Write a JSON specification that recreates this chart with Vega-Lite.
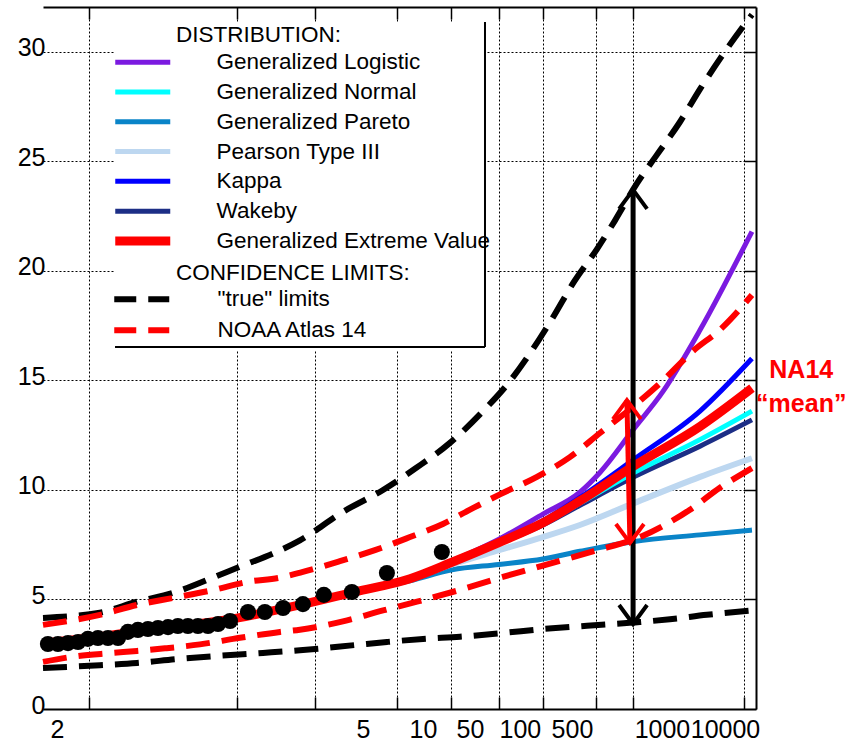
{
  "$schema": "https://vega.github.io/schema/vega-lite/v6.json",
  "width": 713,
  "height": 702,
  "autosize": {"type": "none"},
  "padding": {"left": 43, "top": 7, "right": 90, "bottom": 33},
  "background": "white",
  "config": {
    "font": "Liberation Sans",
    "view": {"stroke": null},
    "axis": {"labelFont": "Liberation Sans", "labelColor": "black", "labelFontSize": 25, "labelFlush": false, "labelOverlap": false}
  },
  "datasets": {
    "fits": [
      {"dist": "Generalized Pareto", "z": -0.261, "v": 3.0}, {"dist": "Generalized Pareto", "z": 0.062, "v": 3.3}, {"dist": "Generalized Pareto", "z": 0.346, "v": 3.62}, {"dist": "Generalized Pareto", "z": 0.84, "v": 4.15}, {"dist": "Generalized Pareto", "z": 1.198, "v": 4.75}, {"dist": "Generalized Pareto", "z": 1.511, "v": 5.33}, {"dist": "Generalized Pareto", "z": 1.823, "v": 5.85}, {"dist": "Generalized Pareto", "z": 2.061, "v": 6.35}, {"dist": "Generalized Pareto", "z": 2.328, "v": 6.6}, {"dist": "Generalized Pareto", "z": 2.578, "v": 6.85}, {"dist": "Generalized Pareto", "z": 2.788, "v": 7.2}, {"dist": "Generalized Pareto", "z": 3.095, "v": 7.65}, {"dist": "Generalized Pareto", "z": 3.47, "v": 7.95}, {"dist": "Generalized Pareto", "z": 3.765, "v": 8.17},
      {"dist": "Pearson Type III", "z": -0.261, "v": 3.0}, {"dist": "Pearson Type III", "z": 0.062, "v": 3.3}, {"dist": "Pearson Type III", "z": 0.346, "v": 3.62}, {"dist": "Pearson Type III", "z": 0.84, "v": 4.15}, {"dist": "Pearson Type III", "z": 1.198, "v": 4.75}, {"dist": "Pearson Type III", "z": 1.511, "v": 5.35}, {"dist": "Pearson Type III", "z": 1.823, "v": 5.95}, {"dist": "Pearson Type III", "z": 2.061, "v": 6.6}, {"dist": "Pearson Type III", "z": 2.328, "v": 7.25}, {"dist": "Pearson Type III", "z": 2.578, "v": 7.85}, {"dist": "Pearson Type III", "z": 2.788, "v": 8.4}, {"dist": "Pearson Type III", "z": 3.095, "v": 9.4}, {"dist": "Pearson Type III", "z": 3.47, "v": 10.6}, {"dist": "Pearson Type III", "z": 3.765, "v": 11.45},
      {"dist": "Wakeby", "z": -0.261, "v": 3.0}, {"dist": "Wakeby", "z": 0.062, "v": 3.3}, {"dist": "Wakeby", "z": 0.346, "v": 3.62}, {"dist": "Wakeby", "z": 0.84, "v": 4.15}, {"dist": "Wakeby", "z": 1.198, "v": 4.75}, {"dist": "Wakeby", "z": 1.511, "v": 5.35}, {"dist": "Wakeby", "z": 1.823, "v": 5.95}, {"dist": "Wakeby", "z": 2.061, "v": 6.68}, {"dist": "Wakeby", "z": 2.328, "v": 7.55}, {"dist": "Wakeby", "z": 2.578, "v": 8.4}, {"dist": "Wakeby", "z": 2.788, "v": 9.3}, {"dist": "Wakeby", "z": 3.095, "v": 10.6}, {"dist": "Wakeby", "z": 3.47, "v": 12.0}, {"dist": "Wakeby", "z": 3.765, "v": 13.2},
      {"dist": "Generalized Normal", "z": -0.261, "v": 3.0}, {"dist": "Generalized Normal", "z": 0.062, "v": 3.3}, {"dist": "Generalized Normal", "z": 0.346, "v": 3.62}, {"dist": "Generalized Normal", "z": 0.84, "v": 4.15}, {"dist": "Generalized Normal", "z": 1.198, "v": 4.75}, {"dist": "Generalized Normal", "z": 1.511, "v": 5.35}, {"dist": "Generalized Normal", "z": 1.823, "v": 5.95}, {"dist": "Generalized Normal", "z": 2.061, "v": 6.7}, {"dist": "Generalized Normal", "z": 2.328, "v": 7.6}, {"dist": "Generalized Normal", "z": 2.578, "v": 8.45}, {"dist": "Generalized Normal", "z": 2.788, "v": 9.4}, {"dist": "Generalized Normal", "z": 3.095, "v": 10.8}, {"dist": "Generalized Normal", "z": 3.47, "v": 12.3}, {"dist": "Generalized Normal", "z": 3.765, "v": 13.6},
      {"dist": "Generalized Logistic", "z": -0.261, "v": 3.0}, {"dist": "Generalized Logistic", "z": 0.062, "v": 3.3}, {"dist": "Generalized Logistic", "z": 0.346, "v": 3.62}, {"dist": "Generalized Logistic", "z": 0.84, "v": 4.15}, {"dist": "Generalized Logistic", "z": 1.198, "v": 4.75}, {"dist": "Generalized Logistic", "z": 1.511, "v": 5.35}, {"dist": "Generalized Logistic", "z": 1.823, "v": 5.95}, {"dist": "Generalized Logistic", "z": 2.061, "v": 6.75}, {"dist": "Generalized Logistic", "z": 2.328, "v": 7.75}, {"dist": "Generalized Logistic", "z": 2.578, "v": 8.9}, {"dist": "Generalized Logistic", "z": 2.788, "v": 9.9}, {"dist": "Generalized Logistic", "z": 2.902, "v": 10.8}, {"dist": "Generalized Logistic", "z": 3.095, "v": 12.8}, {"dist": "Generalized Logistic", "z": 3.26, "v": 14.5}, {"dist": "Generalized Logistic", "z": 3.47, "v": 17.3}, {"dist": "Generalized Logistic", "z": 3.765, "v": 21.8},
      {"dist": "Kappa", "z": -0.261, "v": 3.0}, {"dist": "Kappa", "z": 0.062, "v": 3.3}, {"dist": "Kappa", "z": 0.346, "v": 3.62}, {"dist": "Kappa", "z": 0.84, "v": 4.15}, {"dist": "Kappa", "z": 1.198, "v": 4.75}, {"dist": "Kappa", "z": 1.511, "v": 5.35}, {"dist": "Kappa", "z": 1.823, "v": 5.95}, {"dist": "Kappa", "z": 2.061, "v": 6.7}, {"dist": "Kappa", "z": 2.328, "v": 7.65}, {"dist": "Kappa", "z": 2.578, "v": 8.6}, {"dist": "Kappa", "z": 2.788, "v": 9.65}, {"dist": "Kappa", "z": 3.095, "v": 11.4}, {"dist": "Kappa", "z": 3.47, "v": 13.6}, {"dist": "Kappa", "z": 3.765, "v": 16.0},
      {"dist": "Generalized Extreme Value", "z": -0.261, "v": 3.0}, {"dist": "Generalized Extreme Value", "z": 0.062, "v": 3.3}, {"dist": "Generalized Extreme Value", "z": 0.346, "v": 3.62}, {"dist": "Generalized Extreme Value", "z": 0.84, "v": 4.15}, {"dist": "Generalized Extreme Value", "z": 1.198, "v": 4.75}, {"dist": "Generalized Extreme Value", "z": 1.511, "v": 5.35}, {"dist": "Generalized Extreme Value", "z": 1.823, "v": 5.95}, {"dist": "Generalized Extreme Value", "z": 2.061, "v": 6.7}, {"dist": "Generalized Extreme Value", "z": 2.328, "v": 7.6}, {"dist": "Generalized Extreme Value", "z": 2.578, "v": 8.5}, {"dist": "Generalized Extreme Value", "z": 2.788, "v": 9.5}, {"dist": "Generalized Extreme Value", "z": 3.095, "v": 11.1}, {"dist": "Generalized Extreme Value", "z": 3.47, "v": 12.9}, {"dist": "Generalized Extreme Value", "z": 3.765, "v": 14.65}
    ],
    "limits": [
      {"limit": "\"true\" limits", "bound": "upper", "z": -0.261, "v": 4.16}, {"limit": "\"true\" limits", "bound": "upper", "z": 0.062, "v": 4.4}, {"limit": "\"true\" limits", "bound": "upper", "z": 0.273, "v": 4.9}, {"limit": "\"true\" limits", "bound": "upper", "z": 0.477, "v": 5.3}, {"limit": "\"true\" limits", "bound": "upper", "z": 0.704, "v": 6.0}, {"limit": "\"true\" limits", "bound": "upper", "z": 0.857, "v": 6.5}, {"limit": "\"true\" limits", "bound": "upper", "z": 1.045, "v": 7.1}, {"limit": "\"true\" limits", "bound": "upper", "z": 1.198, "v": 7.7}, {"limit": "\"true\" limits", "bound": "upper", "z": 1.442, "v": 9.0}, {"limit": "\"true\" limits", "bound": "upper", "z": 1.67, "v": 10.0}, {"limit": "\"true\" limits", "bound": "upper", "z": 1.857, "v": 11.0}, {"limit": "\"true\" limits", "bound": "upper", "z": 2.05, "v": 12.15}, {"limit": "\"true\" limits", "bound": "upper", "z": 2.232, "v": 13.55}, {"limit": "\"true\" limits", "bound": "upper", "z": 2.379, "v": 14.85}, {"limit": "\"true\" limits", "bound": "upper", "z": 2.51, "v": 16.3}, {"limit": "\"true\" limits", "bound": "upper", "z": 2.629, "v": 17.8}, {"limit": "\"true\" limits", "bound": "upper", "z": 2.754, "v": 19.5}, {"limit": "\"true\" limits", "bound": "upper", "z": 2.885, "v": 21.0}, {"limit": "\"true\" limits", "bound": "upper", "z": 2.987, "v": 22.3}, {"limit": "\"true\" limits", "bound": "upper", "z": 3.112, "v": 24.0}, {"limit": "\"true\" limits", "bound": "upper", "z": 3.225, "v": 25.3}, {"limit": "\"true\" limits", "bound": "upper", "z": 3.356, "v": 26.8}, {"limit": "\"true\" limits", "bound": "upper", "z": 3.47, "v": 28.3}, {"limit": "\"true\" limits", "bound": "upper", "z": 3.589, "v": 29.75}, {"limit": "\"true\" limits", "bound": "upper", "z": 3.765, "v": 31.7},
      {"limit": "\"true\" limits", "bound": "lower", "z": -0.261, "v": 1.87}, {"limit": "\"true\" limits", "bound": "lower", "z": 0.062, "v": 2.0}, {"limit": "\"true\" limits", "bound": "lower", "z": 0.273, "v": 2.1}, {"limit": "\"true\" limits", "bound": "lower", "z": 0.5, "v": 2.28}, {"limit": "\"true\" limits", "bound": "lower", "z": 0.727, "v": 2.42}, {"limit": "\"true\" limits", "bound": "lower", "z": 0.988, "v": 2.56}, {"limit": "\"true\" limits", "bound": "lower", "z": 1.198, "v": 2.68}, {"limit": "\"true\" limits", "bound": "lower", "z": 1.511, "v": 2.92}, {"limit": "\"true\" limits", "bound": "lower", "z": 1.692, "v": 3.06}, {"limit": "\"true\" limits", "bound": "lower", "z": 1.897, "v": 3.2}, {"limit": "\"true\" limits", "bound": "lower", "z": 2.107, "v": 3.3}, {"limit": "\"true\" limits", "bound": "lower", "z": 2.351, "v": 3.47}, {"limit": "\"true\" limits", "bound": "lower", "z": 2.578, "v": 3.65}, {"limit": "\"true\" limits", "bound": "lower", "z": 2.828, "v": 3.8}, {"limit": "\"true\" limits", "bound": "lower", "z": 3.129, "v": 3.97}, {"limit": "\"true\" limits", "bound": "lower", "z": 3.299, "v": 4.1}, {"limit": "\"true\" limits", "bound": "lower", "z": 3.509, "v": 4.3}, {"limit": "\"true\" limits", "bound": "lower", "z": 3.765, "v": 4.5},
      {"limit": "NOAA Atlas 14", "bound": "upper", "z": -0.261, "v": 3.84}, {"limit": "NOAA Atlas 14", "bound": "upper", "z": 0.062, "v": 4.3}, {"limit": "NOAA Atlas 14", "bound": "upper", "z": 0.273, "v": 4.75}, {"limit": "NOAA Atlas 14", "bound": "upper", "z": 0.477, "v": 5.07}, {"limit": "NOAA Atlas 14", "bound": "upper", "z": 0.704, "v": 5.43}, {"limit": "NOAA Atlas 14", "bound": "upper", "z": 0.897, "v": 5.8}, {"limit": "NOAA Atlas 14", "bound": "upper", "z": 1.085, "v": 6.0}, {"limit": "NOAA Atlas 14", "bound": "upper", "z": 1.21, "v": 6.25}, {"limit": "NOAA Atlas 14", "bound": "upper", "z": 1.425, "v": 6.75}, {"limit": "NOAA Atlas 14", "bound": "upper", "z": 1.624, "v": 7.25}, {"limit": "NOAA Atlas 14", "bound": "upper", "z": 1.823, "v": 7.85}, {"limit": "NOAA Atlas 14", "bound": "upper", "z": 2.01, "v": 8.45}, {"limit": "NOAA Atlas 14", "bound": "upper", "z": 2.164, "v": 9.1}, {"limit": "NOAA Atlas 14", "bound": "upper", "z": 2.334, "v": 9.8}, {"limit": "NOAA Atlas 14", "bound": "upper", "z": 2.544, "v": 10.6}, {"limit": "NOAA Atlas 14", "bound": "upper", "z": 2.731, "v": 11.5}, {"limit": "NOAA Atlas 14", "bound": "upper", "z": 2.902, "v": 12.6}, {"limit": "NOAA Atlas 14", "bound": "upper", "z": 3.089, "v": 13.8}, {"limit": "NOAA Atlas 14", "bound": "upper", "z": 3.26, "v": 15.0}, {"limit": "NOAA Atlas 14", "bound": "upper", "z": 3.424, "v": 16.3}, {"limit": "NOAA Atlas 14", "bound": "upper", "z": 3.595, "v": 17.4}, {"limit": "NOAA Atlas 14", "bound": "upper", "z": 3.765, "v": 18.9},
      {"limit": "NOAA Atlas 14", "bound": "lower", "z": -0.261, "v": 2.15}, {"limit": "NOAA Atlas 14", "bound": "lower", "z": -0.08, "v": 2.4}, {"limit": "NOAA Atlas 14", "bound": "lower", "z": 0.119, "v": 2.55}, {"limit": "NOAA Atlas 14", "bound": "lower", "z": 0.273, "v": 2.65}, {"limit": "NOAA Atlas 14", "bound": "lower", "z": 0.432, "v": 2.77}, {"limit": "NOAA Atlas 14", "bound": "lower", "z": 0.63, "v": 2.95}, {"limit": "NOAA Atlas 14", "bound": "lower", "z": 0.857, "v": 3.25}, {"limit": "NOAA Atlas 14", "bound": "lower", "z": 1.085, "v": 3.52}, {"limit": "NOAA Atlas 14", "bound": "lower", "z": 1.198, "v": 3.62}, {"limit": "NOAA Atlas 14", "bound": "lower", "z": 1.442, "v": 4.0}, {"limit": "NOAA Atlas 14", "bound": "lower", "z": 1.67, "v": 4.5}, {"limit": "NOAA Atlas 14", "bound": "lower", "z": 1.863, "v": 4.9}, {"limit": "NOAA Atlas 14", "bound": "lower", "z": 2.09, "v": 5.4}, {"limit": "NOAA Atlas 14", "bound": "lower", "z": 2.317, "v": 5.95}, {"limit": "NOAA Atlas 14", "bound": "lower", "z": 2.578, "v": 6.55}, {"limit": "NOAA Atlas 14", "bound": "lower", "z": 2.862, "v": 7.2}, {"limit": "NOAA Atlas 14", "bound": "lower", "z": 3.129, "v": 7.85}, {"limit": "NOAA Atlas 14", "bound": "lower", "z": 3.413, "v": 9.1}, {"limit": "NOAA Atlas 14", "bound": "lower", "z": 3.583, "v": 10.1}, {"limit": "NOAA Atlas 14", "bound": "lower", "z": 3.765, "v": 11.0}
    ],
    "obs": [
      {"z": -0.233, "v": 2.97}, {"z": -0.176, "v": 2.97}, {"z": -0.119, "v": 3.01}, {"z": -0.062, "v": 3.06}, {"z": -0.006, "v": 3.2}, {"z": 0.051, "v": 3.24}, {"z": 0.108, "v": 3.24}, {"z": 0.165, "v": 3.24}, {"z": 0.221, "v": 3.52}, {"z": 0.278, "v": 3.61}, {"z": 0.335, "v": 3.65}, {"z": 0.392, "v": 3.7}, {"z": 0.449, "v": 3.74}, {"z": 0.505, "v": 3.79}, {"z": 0.562, "v": 3.79}, {"z": 0.619, "v": 3.79}, {"z": 0.676, "v": 3.79}, {"z": 0.733, "v": 3.88}, {"z": 0.801, "v": 4.02}, {"z": 0.903, "v": 4.43}, {"z": 0.999, "v": 4.43}, {"z": 1.102, "v": 4.61}, {"z": 1.215, "v": 4.79}, {"z": 1.334, "v": 5.21}, {"z": 1.493, "v": 5.34}, {"z": 1.692, "v": 6.21}, {"z": 2.004, "v": 7.17}
    ],
    "arrows": [
      {"limit": "\"true\" limits", "z": 3.09, "v": 23.7, "z_end": 3.09, "v_end": 3.88},
      {"limit": "NOAA Atlas 14", "z": 3.055, "v": 14.1, "z_end": 3.072, "v_end": 7.58}
    ]
  },
  "resolve": {"axis": {"x": "independent", "y": "independent"}, "scale": {"color": "independent"}},
  "layer": [
    {
      "data": {"values": [{}]},
      "mark": {"type": "rect", "fill": "white"},
      "encoding": {
        "x": {"datum": 0.148, "type": "quantitative", "axis": null},
        "x2": {"datum": 2.249},
        "y": {"datum": 31.37, "type": "quantitative", "axis": null},
        "y2": {"datum": 16.39}
      }
    },
    {
      "data": {"values": [{}]},
      "mark": {"type": "rule", "color": "black", "strokeWidth": 2},
      "encoding": {
        "x": {"datum": 2.249, "type": "quantitative", "axis": null},
        "y": {"datum": 31.37, "type": "quantitative", "axis": null},
        "y2": {"datum": 16.53}
      }
    },
    {
      "data": {"values": [{}]},
      "mark": {"type": "rule", "color": "black", "strokeWidth": 2},
      "encoding": {
        "x": {"datum": 0.148, "type": "quantitative", "axis": null},
        "x2": {"datum": 2.249},
        "y": {"datum": 16.53, "type": "quantitative", "axis": null}
      }
    },
    {
      "data": {"name": "fits"},
      "mark": {"type": "line", "interpolate": "monotone", "strokeCap": "butt"},
      "encoding": {
        "x": {"field": "z", "type": "quantitative", "scale": {"domain": [-0.261, 3.788], "nice": false, "zero": false},
          "axis": {"orient": "bottom", "title": null, "values": [0, 0.8416, 1.2816, 1.7507, 2.0537, 2.3263, 2.5758, 2.8782, 3.0902, 3.719], "labels": false, "grid": true, "gridColor": "black", "gridDash": [2, 2], "gridWidth": 1, "gridOpacity": 1, "ticks": true, "tickSize": -12, "tickColor": "black", "tickWidth": 1.5, "domain": true, "domainColor": "black", "domainWidth": 2}},
        "y": {"field": "v", "type": "quantitative", "scale": {"domain": [0, 32.05], "nice": false, "zero": false},
          "axis": {"orient": "left", "title": null, "values": [0, 5, 10, 15, 20, 25, 30], "grid": true, "gridColor": "black", "gridDash": [2, 2], "gridWidth": 1, "gridOpacity": 1, "ticks": false, "domain": false, "labelFontSize": 25, "labelPadding": -2, "labelOffset": -4}},
        "color": {"field": "dist", "type": "nominal",
          "scale": {"domain": ["Generalized Logistic", "Generalized Normal", "Generalized Pareto", "Pearson Type III", "Kappa", "Wakeby", "Generalized Extreme Value"], "range": ["#7B1AE0", "#00FFFF", "#0A84C8", "#BDD7F0", "#0000FF", "#1C2E86", "#FF0000"]},
          "legend": {"title": "DISTRIBUTION:", "orient": "none", "legendX": 88.5, "legendY": 17.4, "direction": "vertical", "symbolType": "M-13.75,0H13.75", "symbolSize": 16, "symbolStrokeWidth": 5, "labelOffset": 62.5, "labelFontSize": 22.5, "labelFont": "Liberation Sans", "labelColor": "black", "labelLimit": 400, "titleFontSize": 22.5, "titleFont": "Liberation Sans", "titleFontWeight": "normal", "titleColor": "black", "titleLimit": 400, "titlePadding": 4, "rowPadding": 6.8, "padding": 0,
            "encode": {"title": {"update": {"dx": {"value": 44.5}}}, "symbols": {"update": {"strokeJoin": {"value": "bevel"}, "strokeWidth": {"signal": "datum.value === 'Generalized Extreme Value' ? 9 : 5"}}}}}},
        "strokeWidth": {"field": "dist", "type": "nominal",
          "scale": {"type": "ordinal", "domain": ["Generalized Logistic", "Generalized Normal", "Generalized Pareto", "Pearson Type III", "Kappa", "Wakeby", "Generalized Extreme Value"], "range": [5, 5, 5, 6, 5, 5, 9]},
          "legend": null}
      }
    },
    {
      "data": {"name": "limits"},
      "mark": {"type": "line", "interpolate": "monotone", "strokeDash": [24, 12], "strokeWidth": 6, "strokeCap": "butt"},
      "encoding": {
        "x": {"field": "z", "type": "quantitative",
          "axis": {"orient": "top", "title": null, "values": [0, 0.8416, 1.2816, 1.7507, 2.0537, 2.3263, 2.5758, 2.8782, 3.0902, 3.719], "labels": false, "grid": false, "ticks": true, "tickSize": -12, "tickColor": "black", "tickWidth": 1.5, "domain": true, "domainColor": "black", "domainWidth": 2}},
        "y": {"field": "v", "type": "quantitative",
          "axis": {"orient": "right", "title": null, "values": [5, 10, 15, 20, 25, 30], "labels": false, "grid": false, "ticks": true, "tickSize": -12, "tickColor": "black", "tickWidth": 1.5, "domain": true, "domainColor": "black", "domainWidth": 2}},
        "color": {"field": "limit", "type": "nominal",
          "scale": {"domain": ["\"true\" limits", "NOAA Atlas 14"], "range": ["#000000", "#FF0000"]},
          "legend": {"title": "CONFIDENCE LIMITS:", "orient": "none", "legendX": 87.5, "legendY": 255.4, "direction": "vertical", "symbolType": "M-5.5,0H5.5", "symbolSize": 100, "symbolStrokeWidth": 6, "symbolDash": [22, 12], "labelOffset": 64.5, "labelFontSize": 22.5, "labelFont": "Liberation Sans", "labelColor": "black", "labelLimit": 400, "titleFontSize": 22.5, "titleFont": "Liberation Sans", "titleFontWeight": "normal", "titleColor": "black", "titleLimit": 400, "titlePadding": 3, "rowPadding": 6, "padding": 0, "encode": {"title": {"update": {"dx": {"value": 45.5}}}}}},
        "detail": {"field": "bound", "type": "nominal"}
      }
    },
    {
      "data": {"name": "obs"},
      "mark": {"type": "point", "filled": true, "color": "black", "size": 260, "opacity": 1},
      "encoding": {
        "x": {"field": "z", "type": "quantitative",
          "axis": {"orient": "bottom", "title": null, "values": [-0.182, 1.556, 1.897, 2.164, 2.447, 2.743, 3.254, 3.612], "labelExpr": "datum.value < 0 ? '2' : datum.value < 1.7 ? '5' : datum.value < 2 ? '10' : datum.value < 2.3 ? '50' : datum.value < 2.6 ? '100' : datum.value < 3 ? '500' : datum.value < 3.4 ? '1000' : '10000'", "ticks": false, "domain": false, "grid": false, "labelFontSize": 25, "labelBaseline": "alphabetic", "labelPadding": 28, "labelFlush": false, "labelOverlap": false}},
        "y": {"field": "v", "type": "quantitative", "axis": null}
      }
    },
    {
      "data": {"name": "arrows"},
      "mark": {"type": "rule", "strokeWidth": 5},
      "encoding": {
        "x": {"field": "z", "type": "quantitative", "axis": null},
        "x2": {"field": "z_end"},
        "y": {"field": "v", "type": "quantitative", "axis": null},
        "y2": {"field": "v_end"},
        "color": {"field": "limit", "type": "nominal", "scale": {"domain": ["\"true\" limits", "NOAA Atlas 14"], "range": ["#000000", "#FF0000"]}, "legend": null}
      }
    },
    {
      "data": {"name": "arrows"},
      "mark": {"type": "point", "shape": "M-0.7,0.95L0,0L0.7,0.95", "size": 1600, "filled": false, "strokeWidth": 4, "opacity": 1},
      "encoding": {
        "x": {"field": "z", "type": "quantitative", "axis": null},
        "y": {"field": "v", "type": "quantitative", "axis": null},
        "color": {"field": "limit", "type": "nominal", "scale": {"domain": ["\"true\" limits", "NOAA Atlas 14"], "range": ["#000000", "#FF0000"]}, "legend": null}
      }
    },
    {
      "data": {"name": "arrows"},
      "mark": {"type": "point", "shape": "M-0.7,-0.95L0,0L0.7,-0.95", "size": 1600, "filled": false, "strokeWidth": 4, "opacity": 1},
      "encoding": {
        "x": {"field": "z_end", "type": "quantitative", "axis": null},
        "y": {"field": "v_end", "type": "quantitative", "axis": null},
        "color": {"field": "limit", "type": "nominal", "scale": {"domain": ["\"true\" limits", "NOAA Atlas 14"], "range": ["#000000", "#FF0000"]}, "legend": null}
      }
    },
    {
      "data": {"values": [{}]},
      "mark": {"type": "text", "text": ["NA14", "“mean”"], "color": "#FF0000", "fontSize": 25, "fontWeight": "bold", "font": "Liberation Sans", "align": "center", "baseline": "alphabetic", "lineHeight": 34},
      "encoding": {
        "x": {"datum": 4.045, "type": "quantitative", "axis": null},
        "y": {"datum": 15.11, "type": "quantitative", "axis": null}
      }
    }
  ]
}
